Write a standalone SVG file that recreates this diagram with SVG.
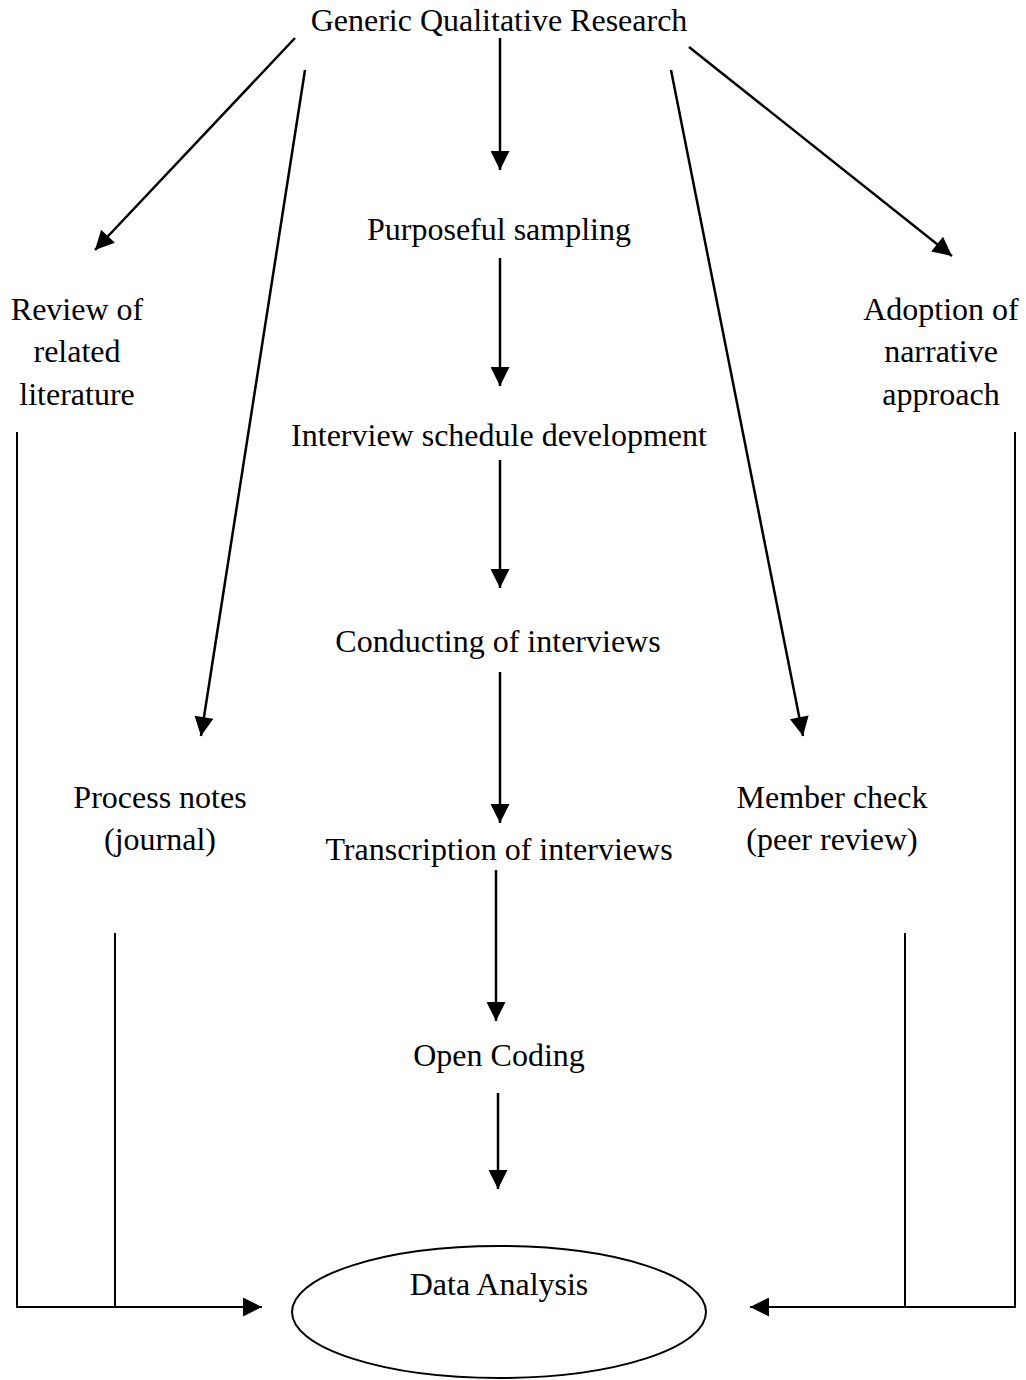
<svg xmlns="http://www.w3.org/2000/svg" width="1026" height="1380" viewBox="0 0 1026 1380">
<style>
text{font-family:"Liberation Serif","Times New Roman",serif;font-size:32px;fill:#000;text-anchor:middle}
.c{stroke:#000;stroke-width:2.5;fill:none}
.b{stroke:#000;stroke-width:2;fill:none}
</style>
<defs>
<marker id="ah" viewBox="0 0 10 10" refX="10" refY="5" markerWidth="21" markerHeight="19" markerUnits="userSpaceOnUse" orient="auto">
<path d="M0,0 L10,5 L0,10 z" fill="#000"/>
</marker>
</defs>
<rect width="1026" height="1380" fill="#fff"/>
<g id="connectors">
<line class="c" x1="295" y1="38" x2="95" y2="250" marker-end="url(#ah)"/>
<line class="c" x1="305" y1="70" x2="201" y2="736" marker-end="url(#ah)"/>
<line class="c" x1="500" y1="38" x2="500" y2="170" marker-end="url(#ah)"/>
<line class="c" x1="671" y1="70" x2="803" y2="736" marker-end="url(#ah)"/>
<line class="c" x1="689" y1="47" x2="952" y2="256" marker-end="url(#ah)"/>
<line class="c" x1="500" y1="258" x2="500" y2="386" marker-end="url(#ah)"/>
<line class="c" x1="500" y1="460" x2="500" y2="588" marker-end="url(#ah)"/>
<line class="c" x1="500" y1="672" x2="500" y2="823" marker-end="url(#ah)"/>
<line class="c" x1="496" y1="870" x2="496" y2="1021" marker-end="url(#ah)"/>
<line class="c" x1="498" y1="1093" x2="498" y2="1189" marker-end="url(#ah)"/>
<polyline class="b" points="17,432 17,1307 262,1307" marker-end="url(#ah)"/>
<line class="b" x1="115" y1="933" x2="115" y2="1307"/>
<polyline class="b" points="1015,432 1015,1307 750,1307" marker-end="url(#ah)"/>
<line class="b" x1="905" y1="933" x2="905" y2="1307"/>
</g>
<g id="generic"><text x="499" y="31">Generic Qualitative Research</text></g>
<g id="purposeful"><text x="499" y="240">Purposeful sampling</text></g>
<g id="review"><text x="77" y="320">Review of</text><text x="77" y="362">related</text><text x="77" y="405">literature</text></g>
<g id="adoption"><text x="941" y="320">Adoption of</text><text x="941" y="362">narrative</text><text x="941" y="405">approach</text></g>
<g id="interview"><text x="499" y="446">Interview schedule development</text></g>
<g id="conducting"><text x="498" y="652">Conducting of interviews</text></g>
<g id="process"><text x="160" y="808">Process notes</text><text x="160" y="850">(journal)</text></g>
<g id="member"><text x="832" y="808">Member check</text><text x="832" y="850">(peer review)</text></g>
<g id="transcription"><text x="499" y="860">Transcription of interviews</text></g>
<g id="opencoding"><text x="499" y="1066">Open Coding</text></g>
<g id="dataanalysis"><ellipse cx="499" cy="1312" rx="207" ry="66" class="b"/><text x="499" y="1295">Data Analysis</text></g>
</svg>
